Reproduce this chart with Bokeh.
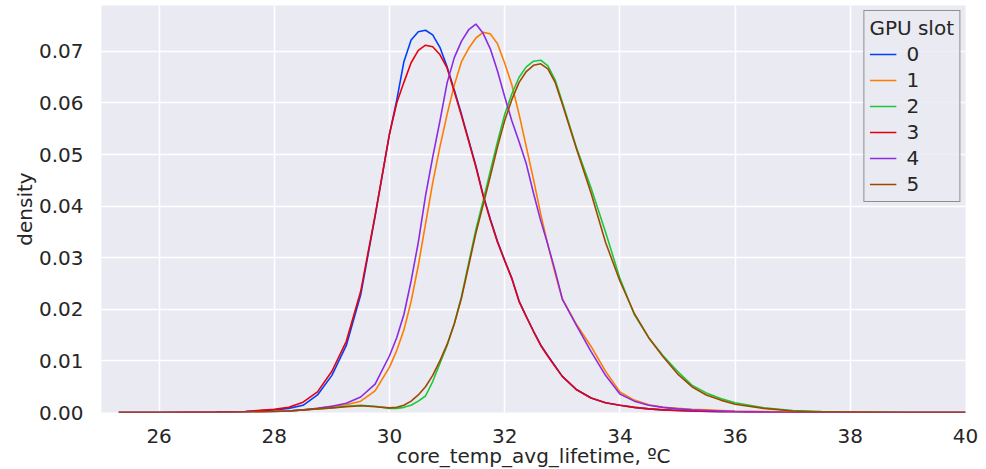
from bokeh.plotting import figure
from bokeh.models import Range1d, FixedTicker, NumeralTickFormatter, Legend, LegendItem, ColumnDataSource
from bokeh.embed import file_html
from bokeh.resources import INLINE

# x grid (core_temp_avg_lifetime, ºC)
temps = [25.3, 26, 27, 27.5, 28, 28.25, 28.5, 28.75, 29, 29.25, 29.5, 29.75,
         30, 30.125, 30.25, 30.375, 30.5, 30.625, 30.75, 30.875,
         31, 31.125, 31.25, 31.375, 31.5, 31.625, 31.75, 31.875,
         32, 32.125, 32.25, 32.375, 32.5, 32.625, 32.75, 32.875, 33,
         33.25, 33.5, 33.75, 34, 34.25, 34.5, 34.75, 35, 35.25, 35.5, 35.75, 36,
         36.5, 37, 37.5, 38, 39, 40]

slot0 = [0.0, 0.0, 0.0001, 0.0002, 0.0005, 0.0008, 0.0014, 0.0034, 0.0072, 0.0130, 0.0228, 0.0380,
         0.0540, 0.0605, 0.0680, 0.0722, 0.0738, 0.0741, 0.0732, 0.0708,
         0.0670, 0.0625, 0.0578, 0.0528, 0.0478, 0.0422, 0.0375, 0.0332,
         0.0295, 0.0260, 0.0216, 0.0186, 0.0158, 0.0131, 0.0110, 0.0090, 0.0070,
         0.0044, 0.0028, 0.0019, 0.0014, 0.0010, 0.0007, 0.0005, 0.0004, 0.0003, 0.0002, 0.0001, 0.0001,
         0.0, 0.0, 0.0, 0.0, 0.0, 0.0]

slot1 = [0.0, 0.0, 0.0, 0.0001, 0.0002, 0.0003, 0.0005, 0.0008, 0.0012, 0.0015, 0.0022, 0.0042,
         0.0088, 0.0120, 0.0160, 0.0215, 0.0285, 0.0365, 0.0445, 0.0515,
         0.0578, 0.0635, 0.0680, 0.0706, 0.0726, 0.0737, 0.0734, 0.0715,
         0.0677, 0.0635, 0.0578, 0.0515, 0.0452, 0.0385, 0.0325, 0.0270, 0.0220,
         0.0170, 0.0128, 0.0080, 0.0040, 0.0024, 0.0015, 0.0010, 0.0008, 0.0006, 0.0005, 0.0004, 0.0003,
         0.0002, 0.0001, 0.0, 0.0, 0.0, 0.0]

slot2 = [0.0, 0.0, 0.0, 0.0001, 0.0002, 0.0003, 0.0005, 0.0007, 0.0009, 0.0012, 0.0014, 0.0012,
         0.0008, 0.0008, 0.0010, 0.0014, 0.0022, 0.0032, 0.0060, 0.0095,
         0.0130, 0.0172, 0.0225, 0.0290, 0.0355, 0.0410, 0.0468, 0.0525,
         0.0578, 0.0618, 0.0650, 0.0670, 0.0681, 0.0683, 0.0672, 0.0645, 0.0602,
         0.0512, 0.0435, 0.0350, 0.0260, 0.0190, 0.0145, 0.0110, 0.0080, 0.0053, 0.0038, 0.0027, 0.0019,
         0.0009, 0.0004, 0.0002, 0.0001, 0.0, 0.0]

slot3 = [0.0, 0.0, 0.0001, 0.0002, 0.0006, 0.0010, 0.0020, 0.0040, 0.0080, 0.0138, 0.0235, 0.0382,
         0.0540, 0.0600, 0.0640, 0.0678, 0.0702, 0.0712, 0.0709, 0.0694,
         0.0668, 0.0622, 0.0575, 0.0526, 0.0476, 0.0420, 0.0373, 0.0330,
         0.0294, 0.0259, 0.0215, 0.0186, 0.0157, 0.0130, 0.0109, 0.0089, 0.0070,
         0.0044, 0.0028, 0.0019, 0.0014, 0.0010, 0.0007, 0.0005, 0.0004, 0.0003, 0.0002, 0.0001, 0.0001,
         0.0, 0.0, 0.0, 0.0, 0.0, 0.0]

slot4 = [0.0, 0.0, 0.0, 0.0001, 0.0002, 0.0003, 0.0005, 0.0008, 0.0012, 0.0018, 0.0030, 0.0055,
         0.0110, 0.0145, 0.0190, 0.0255, 0.0330, 0.0420, 0.0495, 0.0565,
         0.0639, 0.0688, 0.0720, 0.0742, 0.0753, 0.0735, 0.0705, 0.0662,
         0.0612, 0.0565, 0.0525, 0.0482, 0.0425, 0.0372, 0.0325, 0.0275, 0.0220,
         0.0168, 0.0118, 0.0072, 0.0036, 0.0022, 0.0014, 0.0010, 0.0007, 0.0005, 0.0004, 0.0003, 0.0002,
         0.0001, 0.0, 0.0, 0.0, 0.0, 0.0]

slot5 = [0.0, 0.0, 0.0, 0.0001, 0.0002, 0.0003, 0.0005, 0.0007, 0.0009, 0.0011, 0.0013, 0.0011,
         0.0009, 0.0010, 0.0014, 0.0022, 0.0034, 0.0050, 0.0072, 0.0100,
         0.0132, 0.0172, 0.0222, 0.0285, 0.0348, 0.0402, 0.0458, 0.0515,
         0.0566, 0.0607, 0.0640, 0.0661, 0.0673, 0.0676, 0.0666, 0.0640, 0.0598,
         0.0510, 0.0425, 0.0330, 0.0255, 0.0192, 0.0145, 0.0108, 0.0075, 0.0050, 0.0034, 0.0024, 0.0016,
         0.0008, 0.0003, 0.0001, 0.0001, 0.0, 0.0]

slot_labels = ["0", "1", "2", "3", "4", "5"]
slot_colors = ["#023eff", "#ff7c00", "#1ac938", "#e8000b", "#8b2be2", "#9f4800"]
x_ticks = [26, 28, 30, 32, 34, 36, 38, 40]
y_ticks = [0.0, 0.01, 0.02, 0.03, 0.04, 0.05, 0.06, 0.07]

FONT = "DejaVu Sans"
TXT = "#262626"

p = figure(frame_width=864, frame_height=407, output_backend="svg", toolbar_location=None,
           x_range=Range1d(25.0, 40.0), y_range=Range1d(0.0, 0.0789),
           min_border_left=101, min_border_top=5, min_border_right=13, min_border_bottom=2)
p.background_fill_color = "#eaeaf2"
p.border_fill_color = "white"
p.outline_line_color = None

p.xgrid.grid_line_color = "white"
p.ygrid.grid_line_color = "white"
p.xgrid.grid_line_width = 1.5
p.ygrid.grid_line_width = 1.5

p.xaxis.ticker = FixedTicker(ticks=x_ticks)
p.yaxis.ticker = FixedTicker(ticks=y_ticks)
p.yaxis.formatter = NumeralTickFormatter(format="0.00")
for ax in (p.xaxis, p.yaxis):
    ax.axis_line_color = None
    ax.major_tick_line_color = None
    ax.minor_tick_line_color = None
    ax.major_label_text_font = FONT
    ax.major_label_text_font_size = "20px"
    ax.major_label_text_color = TXT
    ax.axis_label_text_font = FONT
    ax.axis_label_text_font_size = "20px"
    ax.axis_label_text_font_style = "normal"
    ax.axis_label_text_color = TXT
p.xaxis.axis_label = "core_temp_avg_lifetime, ºC"
p.yaxis.axis_label = "density"
p.xaxis.major_label_standoff = 10
p.yaxis.major_label_standoff = 12
p.xaxis.axis_label_standoff = -2
p.yaxis.axis_label_standoff = -1

series = [slot0, slot1, slot2, slot3, slot4, slot5]
items = []
for lab, col, ys in zip(slot_labels, slot_colors, series):
    src = ColumnDataSource(dict(x=temps, y=ys))
    r = p.line("x", "y", source=src, line_color=col, line_width=1.6)
    items.append(LegendItem(label=lab, renderers=[r]))

legend = Legend(items=items, location="top_right", title="GPU slot")
legend.title_text_font = FONT
legend.title_text_font_size = "20px"
legend.title_text_font_style = "normal"
legend.title_text_color = TXT
legend.label_text_font = FONT
legend.label_text_font_size = "20px"
legend.label_text_color = TXT
legend.background_fill_color = "#eaeaf2"
legend.background_fill_alpha = 0.8
legend.border_line_color = "#333333"
legend.border_line_width = 1
legend.padding = 5
legend.margin = 5
legend.spacing = 2
legend.glyph_width = 27
legend.label_standoff = 10
legend.title_standoff = 2
p.add_layout(legend)

open("out.html", "w").write(file_html(p, INLINE))
